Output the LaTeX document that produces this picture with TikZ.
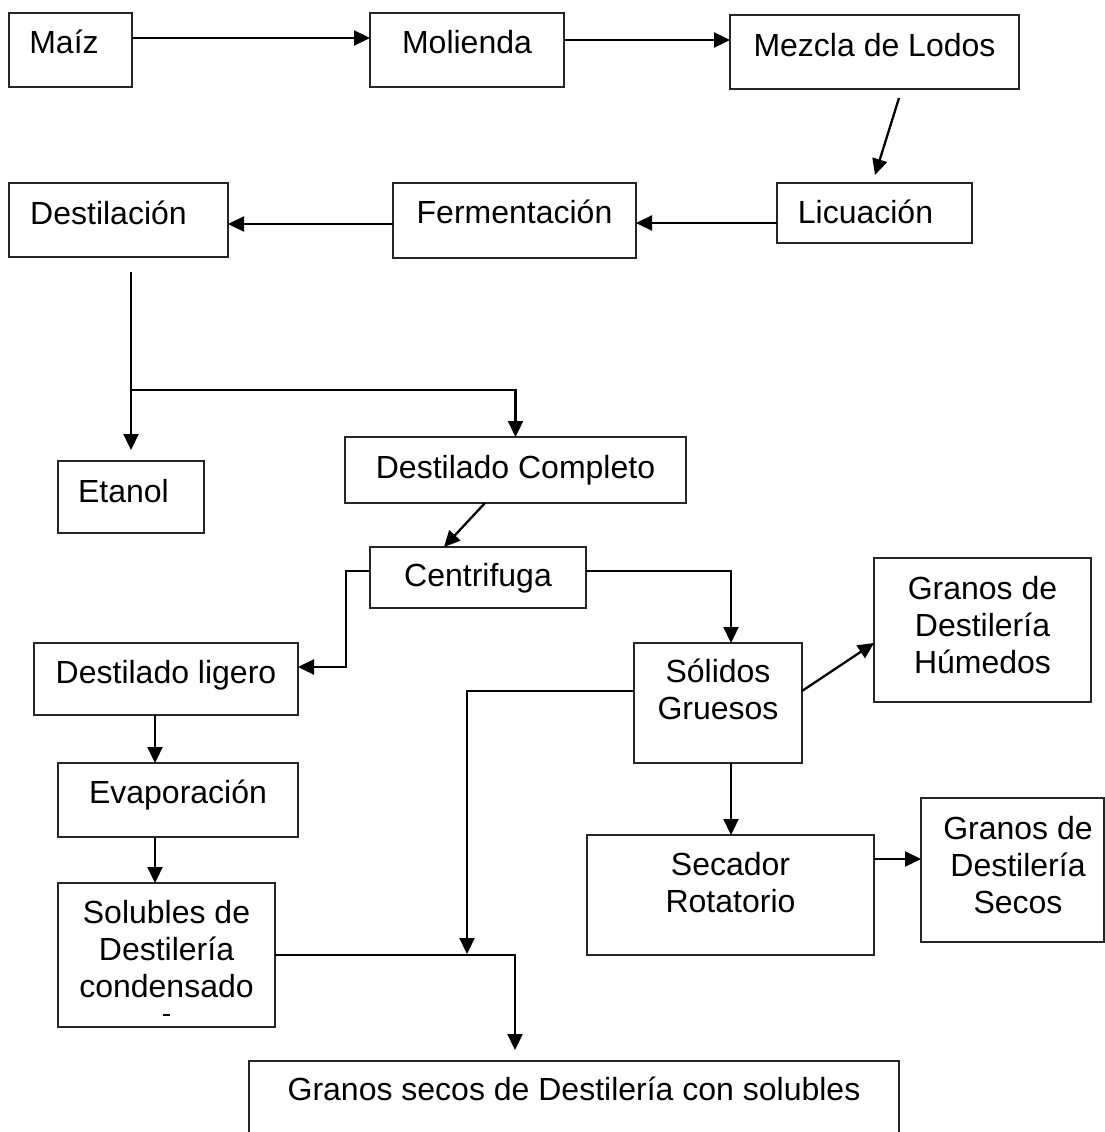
\documentclass[tikz,border=0pt]{standalone}
\usepackage{fontspec}
\setmainfont{Liberation Sans}
\usetikzlibrary{arrows.meta,calc}
% box text: #1 width, #2 height, #3 first baseline from top, #4 twice the x offset, #5 lines
\newcommand\bbox[5]{\vbox to #2pt{\offinterlineskip\hsize=#1pt\def\tdx{#4pt}\kern\dimexpr#3pt-37pt\relax #5\vss}}
\newcommand\bline[1]{\kern37pt\hbox to\hsize{\hss\kern\tdx\smash{#1}\hss}}
\begin{document}
\begin{tikzpicture}[x=1pt,y=-1pt,
  box/.style={draw=black!85, line width=1.5pt, rectangle, inner sep=0pt, outer sep=0pt,
    anchor=north west, font=\fontsize{32}{37}\selectfont},
  conn/.style={line width=2.3pt, -{Triangle[length=16pt,width=15pt]}}]
\useasboundingbox (0,0) rectangle (1105,1132);
\clip (0,0) rectangle (1105,1132);
\fill[white] (0,0) rectangle (1105,1132);

\node[box] (maiz) at (9,13)    {\bbox{123}{74}{41}{-13}{\bline{Maíz}}};
\node[box] (mol)  at (370,13)  {\bbox{194}{74}{41}{0}{\bline{Molienda}}};
\node[box] (mez)  at (730,15)  {\bbox{289}{74}{41}{0}{\bline{Mezcla de Lodos}}};
\node[box] (lic)  at (777,183) {\bbox{195}{60}{40}{-18}{\bline{Licuación}}};
\node[box] (fer)  at (393,183) {\bbox{243}{75}{40}{0}{\bline{Fermentación}}};
\node[box] (dest) at (9,183)   {\bbox{219}{74}{41}{-20}{\bline{Destilación}}};
\node[box] (eta)  at (58,461)  {\bbox{146}{72}{41}{-15}{\bline{Etanol}}};
\node[box] (dc)   at (345,437) {\bbox{341}{66}{41}{0}{\bline{Destilado Completo}}};
\node[box] (cen)  at (370,547) {\bbox{216}{61}{39}{0}{\bline{Centrifuga}}};
\node[box] (dl)   at (34,643)  {\bbox{264}{72}{40}{0}{\bline{Destilado ligero}}};
\node[box] (ev)   at (58,763)  {\bbox{240}{74}{40}{0}{\bline{Evaporación}}};
\node[box] (sdc)  at (58,883)  {\bbox{217}{144}{40}{0}{\bline{Solubles de}\bline{Destilería}\bline{condensado}}};
\node[box] (sol)  at (634,643) {\bbox{168}{120}{39}{0}{\bline{Sólidos}\bline{Gruesos}}};
\node[box] (gdh)  at (874,558) {\bbox{217}{144}{41}{0}{\bline{Granos de}\bline{Destilería}\bline{Húmedos}}};
\node[box] (sec)  at (587,835) {\bbox{287}{120}{40}{0}{\bline{Secador}\bline{Rotatorio}}};
\node[box] (gds)  at (921,798) {\bbox{183}{144}{41}{11}{\bline{Granos de}\bline{Destilería}\bline{Secos}}};
\node[box] (gsd)  at (249,1061) {\bbox{650}{90}{39}{0}{\bline{Granos secos de Destilería con solubles}}};

\draw[line width=1.3pt] (163,1015) -- (170,1015);

\coordinate (split) at (131,390);
\coordinate (merge) at (467,954);

\draw[conn] ([yshift=12pt]maiz.east) -- ([yshift=12pt]mol.west);
\draw[conn] ([yshift=10pt]mol.east) -- ([yshift=12pt]mez.west);
\draw[conn] ([xshift=24.5pt,yshift=-9pt]mez.south) -- ([xshift=0.5pt,yshift=8pt]lic.north);
\draw[conn] ([yshift=-10pt]lic.west) -- ([yshift=-2.5pt]fer.east);
\draw[conn] ([yshift=-3.5pt]fer.west) -- ([yshift=-4pt]dest.east);
\draw[conn] ([xshift=12.5pt,yshift=-15pt]dest.south) -- ([yshift=11pt]eta.north);
\draw[conn] (split) -| (dc.north);
\draw[conn] ([xshift=-30.5pt]dc.south) -- ([xshift=-34pt]cen.north);
\draw[conn] ([yshift=6.5pt]cen.west) -- ++(-24pt,0) |- ([yshift=12pt]dl.east);
\draw[conn] ([yshift=6.5pt]cen.east) -| ([xshift=13pt]sol.north);
\draw[conn] ([yshift=12pt]sol.west) -| (merge);
\draw[conn] ([yshift=12pt]sol.east) -- ([yshift=-13pt]gdh.west);
\draw[conn] ([xshift=13pt]sol.south) -- ([xshift=0.5pt]sec.north);
\draw[conn] ([yshift=36pt]sec.east) -- ([yshift=11pt]gds.west);
\draw[conn] ([xshift=-11pt]dl.south) -- ([xshift=-23pt]ev.north);
\draw[conn] ([xshift=-23pt]ev.south) -- ([xshift=-11.5pt]sdc.north);
\draw[conn] (sdc.east) -| ([xshift=-59pt,yshift=11pt]gsd.north);
\end{tikzpicture}
\end{document}
